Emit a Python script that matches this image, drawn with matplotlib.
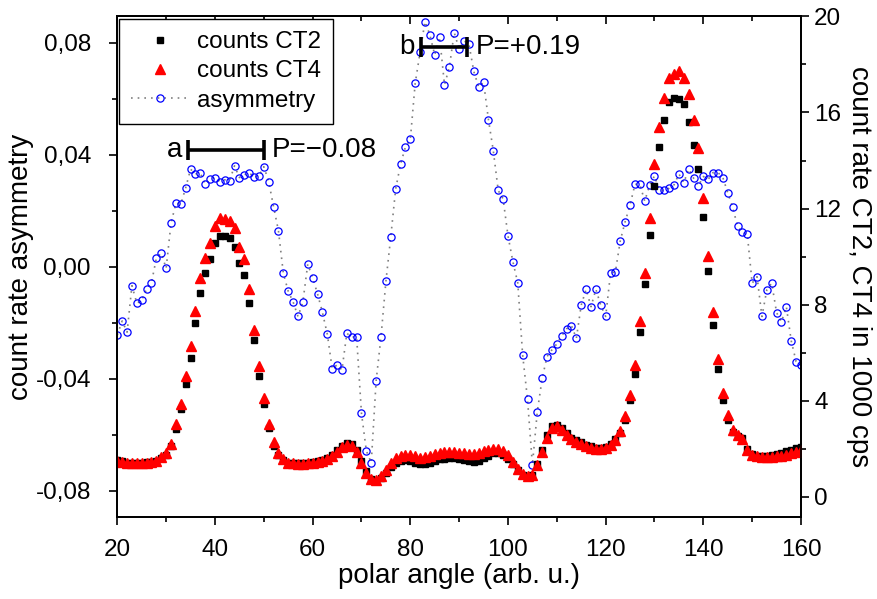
import numpy as np
import matplotlib.pyplot as plt
from matplotlib.ticker import MultipleLocator, FuncFormatter

plt.rcParams['font.family'] = ['Liberation Sans', 'DejaVu Sans']

# polar angle grid (arb. u.)
angle = list(range(20, 161))

# count rate CT2 in 1000 cps
ct2 = [1.52, 1.48, 1.42, 1.40, 1.40, 1.42, 1.44, 1.46, 1.50, 1.60,
       1.75, 2.10, 2.81, 3.63, 4.68, 5.79, 7.24, 8.49, 9.31, 9.90,
       10.57, 10.87, 10.85, 10.76, 10.39, 9.72, 9.21, 8.06, 6.51, 5.04,
       3.85, 2.84, 2.10, 1.73, 1.52, 1.42, 1.40, 1.38, 1.38, 1.40,
       1.43, 1.48, 1.54, 1.62, 1.75, 1.93, 2.12, 2.22, 2.20, 1.95,
       1.50, 1.05, 0.72, 0.66, 0.78, 1.00, 1.22, 1.40, 1.50, 1.52,
       1.50, 1.42, 1.35, 1.35, 1.40, 1.48, 1.55, 1.58, 1.60, 1.60,
       1.58, 1.54, 1.48, 1.45, 1.50, 1.60, 1.70, 1.80, 1.82, 1.75,
       1.58, 1.35, 1.10, 0.92, 0.82, 0.88, 1.35, 1.95, 2.56, 2.93,
       2.97, 2.84, 2.66, 2.45, 2.35, 2.27, 2.16, 2.09, 2.04, 2.04,
       2.08, 2.20, 2.40, 2.65, 3.21, 4.01, 5.12, 6.87, 8.86, 10.91,
       12.94, 14.55, 15.70, 16.42, 16.60, 16.56, 16.35, 15.60, 14.66, 13.65,
       11.63, 9.39, 7.13, 5.33, 4.01, 3.18, 2.69, 2.52, 2.42, 1.98,
       1.76, 1.70, 1.70, 1.70, 1.72, 1.76, 1.82, 1.90, 1.96, 2.02,
       2.08]

# count rate CT4 in 1000 cps
ct4 = [1.50, 1.45, 1.40, 1.38, 1.38, 1.40, 1.42, 1.45, 1.50, 1.63,
       1.82, 2.21, 3.01, 3.85, 5.01, 6.26, 7.75, 9.11, 9.95, 10.58,
       11.29, 11.59, 11.57, 11.50, 11.19, 10.39, 9.90, 8.64, 6.96, 5.43,
       4.10, 3.04, 2.28, 1.82, 1.55, 1.42, 1.38, 1.36, 1.36, 1.38,
       1.40, 1.45, 1.50, 1.58, 1.68, 1.86, 2.05, 2.15, 2.12, 1.85,
       1.40, 1.00, 0.72, 0.70, 0.85, 1.10, 1.38, 1.59, 1.70, 1.75,
       1.75, 1.68, 1.62, 1.64, 1.70, 1.77, 1.82, 1.84, 1.85, 1.84,
       1.82, 1.80, 1.78, 1.78, 1.82, 1.88, 1.93, 2.00, 2.00, 1.92,
       1.73, 1.45, 1.17, 0.96, 0.85, 0.90, 1.31, 1.85, 2.42, 2.84,
       2.92, 2.78, 2.58, 2.38, 2.28, 2.21, 2.10, 2.04, 2.00, 2.00,
       2.04, 2.14, 2.35, 2.74, 3.35, 4.25, 5.47, 7.31, 9.32, 11.61,
       13.85, 15.40, 16.60, 17.43, 17.62, 17.73, 17.43, 16.77, 15.68, 14.52,
       12.44, 10.04, 7.68, 5.72, 4.32, 3.39, 2.79, 2.56, 2.38, 1.93,
       1.73, 1.68, 1.66, 1.66, 1.66, 1.68, 1.70, 1.75, 1.80, 1.85,
       1.93]

# count rate asymmetry
asym = [-0.0243, -0.0193, -0.0233, -0.0067, -0.0130, -0.0119, -0.0079, -0.0056, 0.0031, 0.0049,
        -0.0005, 0.0156, 0.0227, 0.0224, 0.0282, 0.0349, 0.0332, 0.0335, 0.0295, 0.0313,
        0.0319, 0.0305, 0.0311, 0.0308, 0.0361, 0.0319, 0.0329, 0.0337, 0.0320, 0.0325,
        0.0358, 0.0305, 0.0215, 0.0129, -0.0023, -0.0087, -0.0125, -0.0177, -0.0125, 0.0010,
        -0.0039, -0.0096, -0.0162, -0.0240, -0.0363, -0.0350, -0.0368, -0.0237, -0.0251, -0.0249,
        -0.0523, -0.0657, -0.0699, -0.0407, -0.0249, -0.0052, 0.0108, 0.0278, 0.0367, 0.0428,
        0.0455, 0.0656, 0.0767, 0.0876, 0.0829, 0.0757, 0.0821, 0.0650, 0.0714, 0.0837,
        0.0777, 0.0807, 0.0796, 0.0698, 0.0642, 0.0660, 0.0526, 0.0414, 0.0273, 0.0243,
        0.0111, 0.0019, -0.0057, -0.0314, -0.0473, -0.0707, -0.0517, -0.0398, -0.0320, -0.0296,
        -0.0275, -0.0246, -0.0221, -0.0210, -0.0255, -0.0136, -0.0080, -0.0142, -0.0080, -0.0137,
        -0.0177, -0.0023, -0.0017, 0.0094, 0.0162, 0.0221, 0.0295, 0.0295, 0.0235, 0.0292,
        0.0325, 0.0273, 0.0273, 0.0281, 0.0293, 0.0332, 0.0301, 0.0350, 0.0317, 0.0290,
        0.0323, 0.0313, 0.0337, 0.0337, 0.0319, 0.0265, 0.0213, 0.0146, 0.0123, 0.0117,
        -0.0058, -0.0035, -0.0177, -0.0082, -0.0058, -0.0163, -0.0196, -0.0142, -0.0264, -0.0338,
        -0.0350]

# polarisation intervals: (start, end, asymmetry level, label, P text)
bar_a = (34.4, 50.0, 0.0418, 'a', 'P=\u22120.08')
bar_b = (82.1, 91.7, 0.0787, 'b', 'P=+0.19')

fig = plt.figure(figsize=(8.78, 5.99), dpi=100)
ax = fig.add_axes([0.1336, 0.1369, 0.7787, 0.8364])
ax2 = ax.twinx()

l_asym, = ax.plot(angle, asym, ls=(0, (1, 3)), color='gray', lw=1.2,
                  marker='o', ms=5.2, mfc='none', mec='blue', mew=0.9,
                  label='asymmetry')
l_ct2, = ax2.plot(angle, ct2, ls='none', marker='s', ms=4.7, color='black',
                  label='counts CT2')
l_ct4, = ax2.plot(angle, ct4, ls='none', marker='^', ms=6.5, color='red',
                  label='counts CT4')

for x0, x1, y, lab, ptxt in (bar_a, bar_b):
    ax.errorbar((x0 + x1) / 2, y, xerr=(x1 - x0) / 2, fmt='none', ecolor='black',
                elinewidth=2.6, capsize=7.5, capthick=2.6, zorder=5)
    ax.text(x0 - 1.2, y, lab, ha='right', va='center', fontsize=20)
    ax.text(x1 + 1.7, y, ptxt, ha='left', va='center', fontsize=20)

ax.set_xlim(20, 160)
ax.set_ylim(-0.0893, 0.0896)
ax2.set_ylim(-0.85, 20.02)

ax.xaxis.set_major_locator(MultipleLocator(20))
ax.xaxis.set_minor_locator(MultipleLocator(10))
ax.yaxis.set_major_locator(MultipleLocator(0.04))
ax.yaxis.set_minor_locator(MultipleLocator(0.02))
ax.yaxis.set_major_formatter(FuncFormatter(lambda v, p: f'{v:.2f}'.replace('.', ',').replace('-0,00', '0,00')))
ax2.yaxis.set_major_locator(MultipleLocator(4))
ax2.yaxis.set_minor_locator(MultipleLocator(2))

ax.tick_params(axis='both', which='major', labelsize=17.5, length=6, width=1.2, direction='out')
ax.tick_params(axis='both', which='minor', length=3.5, width=1.2, direction='out')
ax.tick_params(axis='x', which='major', pad=10)
ax.tick_params(axis='y', which='major', pad=13)
ax2.tick_params(axis='y', which='major', labelsize=17.5, length=6, width=1.2, direction='out')
ax2.tick_params(axis='y', which='minor', length=3.5, width=1.2, direction='out')

# top axis: ticks pointing inwards, no labels
top = ax.secondary_xaxis('top')
top.xaxis.set_major_locator(MultipleLocator(20))
top.xaxis.set_minor_locator(MultipleLocator(10))
top.tick_params(which='major', direction='in', length=6, width=1.2, labeltop=False)
top.tick_params(which='minor', direction='in', length=3.5, width=1.2)

for a in (ax, ax2, top):
    for s in a.spines.values():
        s.set_linewidth(1.3)

ax.set_xlabel('polar angle (arb. u.)', fontsize=20, labelpad=1)
ax.set_ylabel('count rate asymmetry', fontsize=20, labelpad=1)
ax2.set_ylabel('count rate CT2, CT4 in 1000 cps', fontsize=20, rotation=270, labelpad=22)

leg = ax2.legend(handles=[l_ct2, l_ct4, l_asym], loc='upper left',
                 bbox_to_anchor=(0.0025, 0.994), borderaxespad=0, fontsize=17.5,
                 fancybox=False, edgecolor='black', framealpha=1,
                 handlelength=2.35, handletextpad=0.35, labelspacing=0.3,
                 borderpad=0.5)
leg.get_frame().set_linewidth(1.0)

fig.savefig('out.png', dpi=100)
